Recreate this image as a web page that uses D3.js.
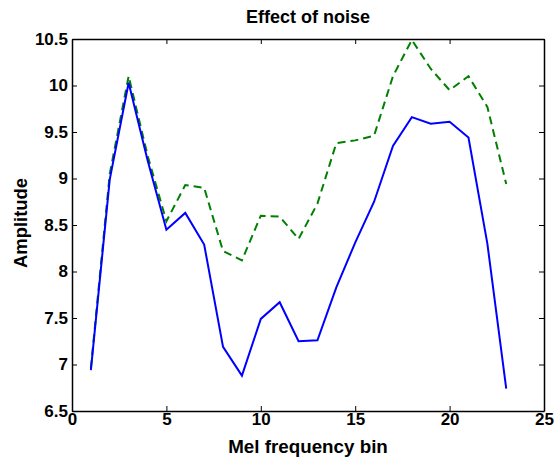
<!DOCTYPE html>
<html>
<head>
  <script src="https://cdn.jsdelivr.net/npm/d3@7"></script>
  <style>
    body { margin: 0; background: #fff; }
    text { font-family: "Liberation Sans", Arial, sans-serif; font-weight: bold; }
  </style>
</head>
<body>
  <div id="chart"></div>
  <script>
    let bins = d3.range(1, 24);
    let clean = [6.94, 8.99, 10.03, 9.2, 8.45, 8.63, 8.29, 7.19, 6.88, 7.49, 7.67, 7.25, 7.26,
      7.83, 8.31, 8.75, 9.35, 9.66, 9.59, 9.61, 9.44, 8.3, 6.74];
    let noisy = [6.96, 9.05, 10.1, 9.25, 8.54, 8.93, 8.9, 8.22, 8.12, 8.6, 8.59, 8.35, 8.73,
      9.38, 9.41, 9.46, 10.1, 10.49, 10.18, 9.95, 10.1, 9.77, 8.94];
    let xTicks = [0, 5, 10, 15, 20, 25];
    let yTicks = [6.5, 7, 7.5, 8, 8.5, 9, 9.5, 10, 10.5];

    let width = 554, height = 460;
    let margin = { top: 39, right: 10, bottom: 49, left: 72 };
    let w = width - margin.left - margin.right;
    let h = height - margin.top - margin.bottom;

    let svg = d3.select('#chart').append('svg')
      .attr('width', width)
      .attr('height', height);

    let g = svg.append('g')
      .attr('transform', `translate(${margin.left}, ${margin.top})`);

    let x = d3.scaleLinear().domain([0, 25]).range([0, w]);
    let y = d3.scaleLinear().domain([6.5, 10.5]).range([h, 0]);

    // box axes with inward ticks
    let styleAxis = sel => {
      sel.select('.domain').attr('stroke', '#000').attr('stroke-width', 1.5);
      sel.selectAll('.tick line').attr('stroke', '#000');
      sel.selectAll('text').attr('font-size', 17).attr('fill', '#000');
    };

    g.append('g')
      .attr('transform', `translate(0, ${h})`)
      .call(d3.axisBottom(x).tickValues(xTicks).tickSizeInner(-5).tickSizeOuter(0).tickPadding(2))
      .call(styleAxis);
    g.append('g')
      .call(d3.axisTop(x).tickValues(xTicks).tickSizeInner(-5).tickSizeOuter(0).tickFormat(''))
      .call(styleAxis);
    g.append('g')
      .call(d3.axisLeft(y).tickValues(yTicks).tickSizeInner(-5).tickSizeOuter(0).tickPadding(4)
        .tickFormat(d3.format('')))
      .call(styleAxis);
    g.append('g')
      .attr('transform', `translate(${w}, 0)`)
      .call(d3.axisRight(y).tickValues(yTicks).tickSizeInner(-5).tickSizeOuter(0).tickFormat(''))
      .call(styleAxis);

    let line = d3.line()
      .x((d, i) => x(bins[i]))
      .y(d => y(d));

    g.append('path')
      .datum(noisy)
      .attr('fill', 'none')
      .attr('stroke', '#008000')
      .attr('stroke-width', 2)
      .attr('stroke-dasharray', '8,5')
      .attr('d', line);

    g.append('path')
      .datum(clean)
      .attr('fill', 'none')
      .attr('stroke', '#0000ff')
      .attr('stroke-width', 2)
      .attr('d', line);

    svg.append('text')
      .attr('x', 308)
      .attr('y', 23)
      .attr('text-anchor', 'middle')
      .attr('font-size', 18)
      .text('Effect of noise');

    svg.append('text')
      .attr('x', 308)
      .attr('y', 453)
      .attr('text-anchor', 'middle')
      .attr('font-size', 18.8)
      .text('Mel frequency bin');

    svg.append('text')
      .attr('transform', `translate(27, 223) rotate(-90)`)
      .attr('text-anchor', 'middle')
      .attr('font-size', 18.4)
      .text('Amplitude');
  </script>
</body>
</html>
